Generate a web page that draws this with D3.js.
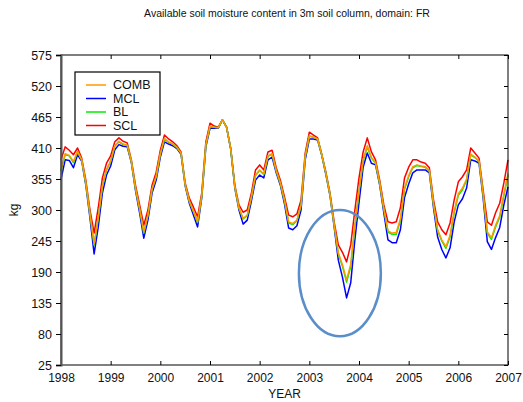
<!DOCTYPE html>
<html lang="en">
    <head>
        <style>
            body { margin: 0; background: #fff; }
            text { font-family: "Liberation Sans", Arial, sans-serif; fill: #111; }
            .line { fill: none; stroke-width: 1.5px; stroke-linejoin: round; }
        </style>
        <script src="https://d3js.org/d3.v7.min.js"></script>
        <title>Soil moisture</title>
    </head>
    <body>
        <div id="chart"></div>
        <script>
            // monthly values, Jan 1998 .. Jan 2007
            var startYear = 1998;
            var yearTicks = [1998, 1999, 2000, 2001, 2002, 2003, 2004, 2005, 2006, 2007];
            var valueTicks = [25, 80, 135, 190, 245, 300, 355, 410, 465, 520, 575];

            var scl = [389,412,406,398,410,392,353,300,259,304,357,383,
                       396,421,428,422,419,389,344,309,273,300,344,367,
                       406,433,426,421,414,403,348,321,305,288,330,421,
                       454,449,447,460,447,410,344,309,296,300,330,371,
                       380,371,403,406,375,353,323,291,288,293,318,401,
                       438,433,428,399,367,330,279,238,225,208,238,300,
                       357,403,428,403,389,353,309,279,277,279,304,357,
                       376,389,389,385,383,375,318,279,265,256,277,318,
                       350,359,371,410,401,392,335,279,273,295,312,348,
                       389];
            var comb = [371,400,397,386,404,389,348,293,240,287,343,372,
                        387,414,422,417,415,386,339,302,261,291,337,360,
                        400,427,421,417,411,401,345,316,298,279,325,416,
                        449,447,446,460,447,409,341,304,285,291,323,362,
                        371,364,396,400,370,348,317,279,276,282,309,395,
                        432,429,426,398,365,327,274,224,203,176,204,273,
                        335,389,414,393,384,348,302,263,259,260,284,339,
                        361,377,380,378,377,370,311,265,247,235,255,298,
                        329,339,355,399,394,387,328,261,251,273,290,328,
                        365];
            var bl = [369,398,396,384,403,389,347,292,237,285,341,371,
                      386,413,421,416,415,386,338,301,259,290,336,359,
                      399,426,420,417,411,401,345,315,297,278,324,415,
                      448,447,446,460,447,409,341,303,284,290,322,361,
                      370,363,395,399,369,347,316,277,274,281,308,394,
                      431,429,426,398,365,327,273,222,200,172,199,269,
                      332,387,412,392,383,347,301,261,257,257,281,337,
                      359,375,379,377,376,369,310,263,245,232,252,295,
                      326,336,353,398,393,386,327,259,248,270,287,325,
                      362];
            var mcl = [354,389,388,375,398,387,344,286,222,270,330,362,
                       378,407,416,413,412,384,335,295,250,282,330,353,
                       394,421,417,414,409,399,343,312,291,270,321,412,
                       445,445,445,460,447,408,339,300,275,282,316,353,
                       362,357,389,394,366,344,311,268,265,272,300,389,
                       426,426,424,397,363,325,270,211,181,144,171,247,
                       313,376,401,383,380,344,295,247,242,242,265,322,
                       346,366,371,371,371,366,304,252,230,215,233,279,
                       309,320,339,389,387,383,321,244,230,251,269,309,
                       341];

            // circled drought region (in data units)
            var markYears = [2002.79, 2004.44];
            var markValues = [76, 300];

            var margin = {top: 55, right: 15, bottom: 37, left: 61},
                width = 523 - margin.left - margin.right,
                height = 402 - margin.top - margin.bottom;

            var svg = d3.select("#chart")
                .append("svg")
                    .attr("width", 523)
                    .attr("height", 402);

            var g = svg.append("g")
                .attr("transform", "translate(" + margin.left + "," + margin.top + ")");

            var x = d3.scaleLinear().domain([1998, 2007]).range([0, width]);
            var y = d3.scaleLinear().domain([25, 575]).range([height, 0]);

            var series = [
                {name: "SCL", values: scl, color: "#ff0000"},
                {name: "MCL", values: mcl, color: "#0000ff"},
                {name: "BL", values: bl, color: "#00ee00"},
                {name: "COMB", values: comb, color: "#ff9900"}
            ];

            var line = d3.line()
                .x(function(d, i) { return x(startYear + i / 12); })
                .y(function(d) { return y(d); });

            g.selectAll(".line")
                .data(series)
                .enter().append("path")
                    .attr("class", "line")
                    .attr("stroke", function(d) { return d.color; })
                    .attr("d", function(d) { return line(d.values); });

            // frame
            g.append("rect")
                .attr("width", width).attr("height", height)
                .attr("fill", "none").attr("stroke", "#000").attr("stroke-width", 1);

            // bottom axis, ticks inward
            var xAxis = g.append("g")
                .attr("transform", "translate(0," + height + ")")
                .call(d3.axisBottom(x).tickValues(yearTicks).tickFormat(d3.format("d")).tickSize(-4).tickPadding(8));
            xAxis.select(".domain").remove();
            xAxis.selectAll("text").style("font-size", "12px");

            // top ticks
            var xTop = g.append("g")
                .call(d3.axisTop(x).tickValues(yearTicks).tickFormat("").tickSize(-4));
            xTop.select(".domain").remove();

            // left axis, ticks outward
            var yAxis = g.append("g")
                .call(d3.axisLeft(y).tickValues(valueTicks).tickSize(5).tickPadding(4));
            yAxis.select(".domain").attr("stroke", "#555").attr("stroke-width", 2);
            yAxis.selectAll("text").style("font-size", "12.5px");

            // right ticks
            var yRight = g.append("g")
                .attr("transform", "translate(" + width + ",0)")
                .call(d3.axisRight(y).tickValues(valueTicks).tickFormat("").tickSize(-4));
            yRight.select(".domain").remove();

            // annotation ellipse
            g.append("ellipse")
                .attr("cx", (x(markYears[0]) + x(markYears[1])) / 2)
                .attr("cy", (y(markValues[0]) + y(markValues[1])) / 2)
                .attr("rx", (x(markYears[1]) - x(markYears[0])) / 2)
                .attr("ry", (y(markValues[0]) - y(markValues[1])) / 2)
                .attr("fill", "none")
                .attr("stroke", "#5b8ec9")
                .attr("stroke-width", 2.5);

            // legend
            var legend = g.append("g").attr("transform", "translate(14,17)");
            legend.append("rect")
                .attr("width", 85).attr("height", 63)
                .attr("fill", "#fff").attr("stroke", "#000").attr("stroke-width", 1.2);
            var legendOrder = [series[3], series[1], series[2], series[0]];
            var item = legend.selectAll(".item")
                .data(legendOrder)
                .enter().append("g")
                    .attr("transform", function(d, i) { return "translate(0," + (13 + i * 13.5) + ")"; });
            item.append("line")
                .attr("x1", 11).attr("x2", 31)
                .attr("stroke", function(d) { return d.color; })
                .attr("stroke-width", 1.5);
            item.append("text")
                .attr("x", 38).attr("dy", "0.35em")
                .style("font-size", "12.5px")
                .text(function(d) { return d.name; });

            // title and axis labels
            svg.append("text")
                .attr("x", 287).attr("y", 17)
                .attr("text-anchor", "middle")
                .style("font-size", "10.5px")
                .text("Available soil moisture content in 3m soil column, domain: FR");

            svg.append("text")
                .attr("x", margin.left + width / 2).attr("y", 398)
                .attr("text-anchor", "middle")
                .style("font-size", "12px")
                .text("YEAR");

            svg.append("text")
                .attr("transform", "translate(18," + (margin.top + height / 2) + ") rotate(-90)")
                .attr("text-anchor", "middle")
                .style("font-size", "12px")
                .text("kg");
        </script>
    </body>
</html>
